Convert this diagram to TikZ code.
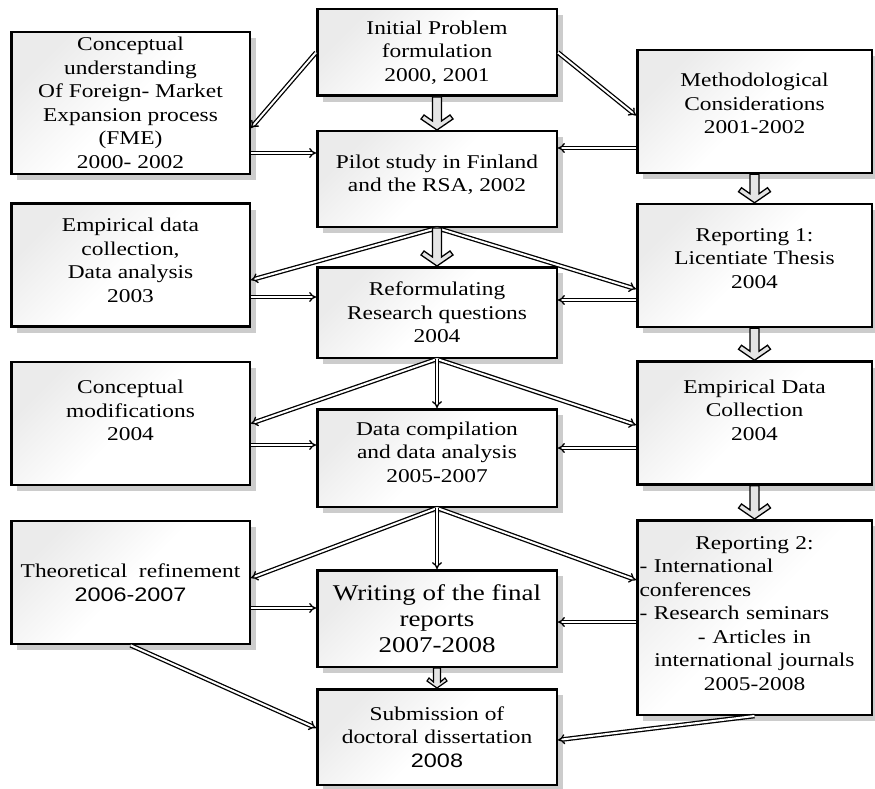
\documentclass[tikz,border=0pt]{standalone}
\usepackage{fontspec}
\setmainfont{Liberation Serif}
\newfontfamily\boxrm{Liberation Serif}[FakeStretch=1.2]
\newfontfamily\boxsf{Liberation Sans}[FakeStretch=1.2]
\usetikzlibrary{shapes, arrows.meta, shadows, calc}

% invisible strut that pushes the text of a box upwards
\newcommand{\boxlift}[1]{\rule[-#1]{0pt}{0pt}}

\tikzset{
  stage/.style={draw, rectangle, line width=2.5pt, align=center, inner sep=2pt,
    top color=black!8, bottom color=white, middle color=white, shading angle=45,
    drop shadow={shadow xshift=6pt, shadow yshift=-6pt, fill=black!20, opacity=1},
    font=\boxrm\fontsize{19.5}{23.5}\selectfont},
  sidebox/.style={stage, minimum width=238.5pt, minimum height=123pt},
  midbox/.style={stage, minimum width=239.5pt},
  rightbox/.style={stage, minimum width=234.5pt, minimum height=123pt},
  link/.style={double, double distance=2pt, line width=1.3pt, -{Implies[scale=1.3]}},
  bigarrow/.style={draw, fill=black!10, line width=1.3pt, line join=miter,
    to path={let \p1=(\tikztostart), \p2=(\tikztotarget) in
      (\x1-4.5pt,\y1) -- (\x1-4.5pt,\y2+9pt) -- (\x1-13pt,\y2+15pt) -- (\x1-16pt,\y2+11pt)
      -- (\x1,\y2) -- (\x1+16pt,\y2+11pt) -- (\x1+13pt,\y2+15pt) -- (\x1+4.5pt,\y2+9pt)
      -- (\x1+4.5pt,\y1) -- cycle}},
  midarrow/.style={draw, fill=black!10, line width=1.2pt, line join=miter,
    to path={let \p1=(\tikztostart), \p2=(\tikztotarget) in
      (\x1-3.5pt,\y1) -- (\x1-3.5pt,\y2+6pt) -- (\x1-8pt,\y2+10pt) -- (\x1-10pt,\y2+7pt)
      -- (\x1,\y2) -- (\x1+10pt,\y2+7pt) -- (\x1+8pt,\y2+10pt) -- (\x1+3.5pt,\y2+6pt)
      -- (\x1+3.5pt,\y1) -- cycle}},
}

\begin{document}
\begin{tikzpicture}[x=1pt, y=-1pt]
\useasboundingbox (0,0) rectangle (875,789);

% left column
\node[sidebox, minimum height=141.5pt] (fme) at (130.5,103) {Conceptual\\understanding\\Of Foreign- Market\\Expansion process\\(FME)\\2000- 2002};
\node[sidebox] (empir) at (130.5,265) {Empirical data\\collection,\\Data analysis\\2003\boxlift{10pt}};
\node[sidebox] (cmod) at (130.5,423.5) {Conceptual\\modifications\\2004\boxlift{26pt}};
\node[sidebox] (theo) at (130.5,582.5) {Theoretical\ \ refinement\\{\boxsf 2006-2007}};

% middle column
\node[midbox, minimum height=86.5pt] (init) at (437,52.5) {Initial Problem\\formulation\\2000, 2001};
\node[midbox, minimum height=95.5pt] (pilot) at (437,179) {Pilot study in Finland\\and the RSA, 2002\boxlift{12pt}};
\node[midbox, minimum height=90.5pt] (reform) at (437,312.5) {Reformulating\\Research questions\\2004};
\node[midbox, minimum height=97.5pt] (comp) at (437,458) {Data compilation\\and data analysis\\2005-2007\boxlift{12pt}};
\node[midbox, minimum height=96.5pt, font=\boxrm\fontsize{22.5}{26}\selectfont] (write) at (437,618.5) {Writing of the final\\reports\\2007-2008};
\node[midbox, minimum height=95.5pt] (submit) at (437,737) {Submission of\\doctoral dissertation\\{\boxsf 2008}};

% right column
\node[rightbox] (method) at (754.5,111.5) {Methodological\\Considerations\\2001-2002\boxlift{16pt}};
\node[rightbox] (rep1) at (754.5,265.5) {Reporting 1:\\Licentiate Thesis\\2004\boxlift{14pt}};
\node[rightbox] (edc) at (754.5,423) {Empirical Data\\Collection\\2004\boxlift{26pt}};
\node[rightbox, minimum height=194.5pt, text width=230pt, inner sep=1pt] (rep2) at (754.5,617.5) {Reporting 2:\\
  \makebox[\linewidth][l]{- International}\\
  \makebox[\linewidth][l]{conferences}\\
  \makebox[\linewidth][l]{- Research seminars}\\
  - Articles in\\international journals\\2005-2008\boxlift{8pt}};

% connectors
\draw[link] (init.west) -- ([yshift=-25pt]fme.east);
\draw[link] (init.east) -- ([yshift=-4pt]method.west);
\draw[bigarrow] (init.south) to (pilot.north);
\draw[link] ([yshift=-50pt]fme.east) -- ([yshift=26pt]pilot.west);
\draw[link] ([yshift=-36.5pt]method.west) -- ([yshift=31pt]pilot.east);
\draw[bigarrow] (method.south) to (rep1.north);

\draw[link] (pilot.south) -- ([yshift=-15pt]empir.east);
\draw[link] (pilot.south) -- ([yshift=-23.5pt]rep1.west);
\draw[bigarrow] (pilot.south) to (reform.north);
\draw[link] ([yshift=-32pt]empir.east) -- ([yshift=15.5pt]reform.west);
\draw[link] ([yshift=-34.5pt]rep1.west) -- ([yshift=12.5pt]reform.east);
\draw[bigarrow] (rep1.south) to (edc.north);

\draw[link] (reform.south) -- (cmod.east);
\draw[link] (reform.south) -- ([yshift=-2pt]edc.west);
\draw[link] (reform.south) -- (comp.north);
\draw[link] ([yshift=-21.5pt]cmod.east) -- ([yshift=13pt]comp.west);
\draw[link] ([yshift=-25pt]edc.west) -- ([yshift=10pt]comp.east);
\draw[bigarrow] (edc.south) to (rep2.north);

\draw[link] (comp.south) -- ([yshift=4.5pt]theo.east);
\draw[link] (comp.south) -- ([yshift=37.5pt]rep2.west);
\draw[link] (comp.south) -- (write.north);
\draw[link] ([yshift=-25.5pt]theo.east) -- ([yshift=10.5pt]write.west);
\draw[link] ([yshift=-4.5pt]rep2.west) -- ([yshift=-3.5pt]write.east);
\draw[midarrow] (write.south) to (submit.north);

\draw[link] (theo.south) -- ([yshift=9pt]submit.west);
\draw[link] (rep2.south) -- ([yshift=-3pt]submit.east);
\end{tikzpicture}
\end{document}
